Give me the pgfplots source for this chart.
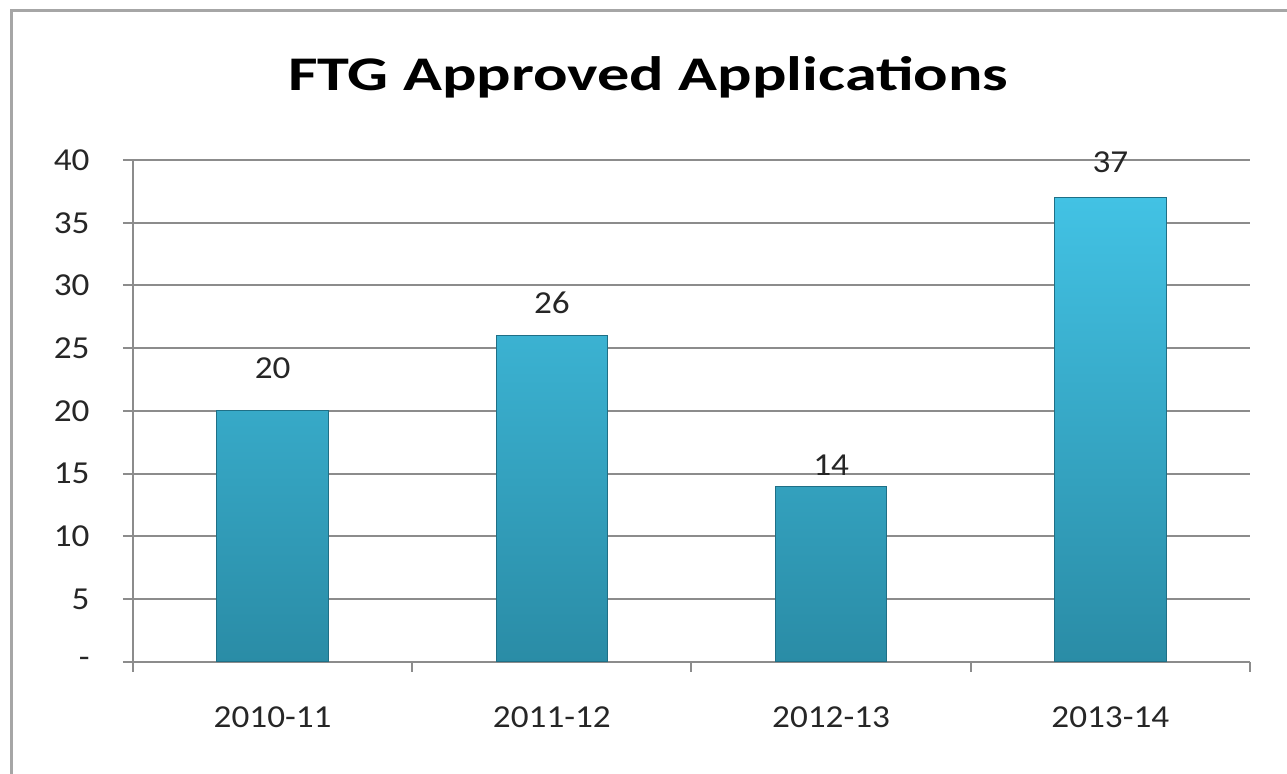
\documentclass[border=0pt]{standalone}
\usepackage{pgfplots}
\pgfplotsset{compat=1.18}
\usepackage{fontspec}
\setmainfont{Carlito}[FakeStretch=1.1]
\newfontfamily\titlefont{Carlito}[FakeStretch=1.33]
\definecolor{gridgray}{HTML}{8C8C8C}
\definecolor{framegray}{HTML}{A6A6A6}
\definecolor{bartop}{HTML}{42C2E4}
\definecolor{barbot}{HTML}{2A8CA6}
\definecolor{barline}{HTML}{1F6F86}
\definecolor{txt}{HTML}{262626}
\begin{document}
\begin{tikzpicture}
\path[use as bounding box] (0,0) rectangle (386.1pt,232.2pt);
\draw[line width=0.9pt, color=framegray] (3.3pt,-10pt) -- (3.3pt,228.9pt) -- (400pt,228.9pt);
\node[font=\titlefont\bfseries\fontsize{14.5}{16}\selectfont, anchor=base, text=black, inner sep=0pt] at (194.5pt,204.9pt) {FTG Approved Applications};
\begin{axis}[
  at={(39.9pt,33.6pt)}, anchor=south west,
  scale only axis, width=335.1pt, height=150.6pt,
  xmin=0.5, xmax=4.5, ymin=0, ymax=40,
  ybar, bar width=0.4,
  /pgf/number format/assume math mode=true,
  xtick={0.5,1.5,2.5,3.5,4.5}, x tick label as interval,
  xticklabels={2010-11,2011-12,2012-13,2013-14},
  ytick={0,5,...,40}, yticklabels={-,5,10,15,20,25,30,35,40},
  axis lines*=left, axis line style={gridgray, line width=0.6pt, -},
  ymajorgrids, grid style={gridgray, line width=0.6pt},
  tick align=outside, major tick length=3pt,
  tick style={gridgray, line width=0.6pt},
  ticklabel style={font=\fontsize{9.6}{11}\selectfont, text=txt},
  xticklabel style={yshift=-7pt},
  yticklabel style={xshift=-6.5pt},
  clip=false,
]
\addplot[draw=barline, line width=0.3pt, top color=bartop, bottom color=barbot,
  visualization depends on={\thisrow{off} \as \off},
  nodes near coords,
  every node near coord/.append style={anchor=center, yshift=\off pt, font=\fontsize{9.6}{11}\selectfont, text=txt},
] table {
x y off
1 20 12.9
2 26 9.9
3 14 6.3
4 37 10.5
};
\end{axis}
\end{tikzpicture}
\end{document}
